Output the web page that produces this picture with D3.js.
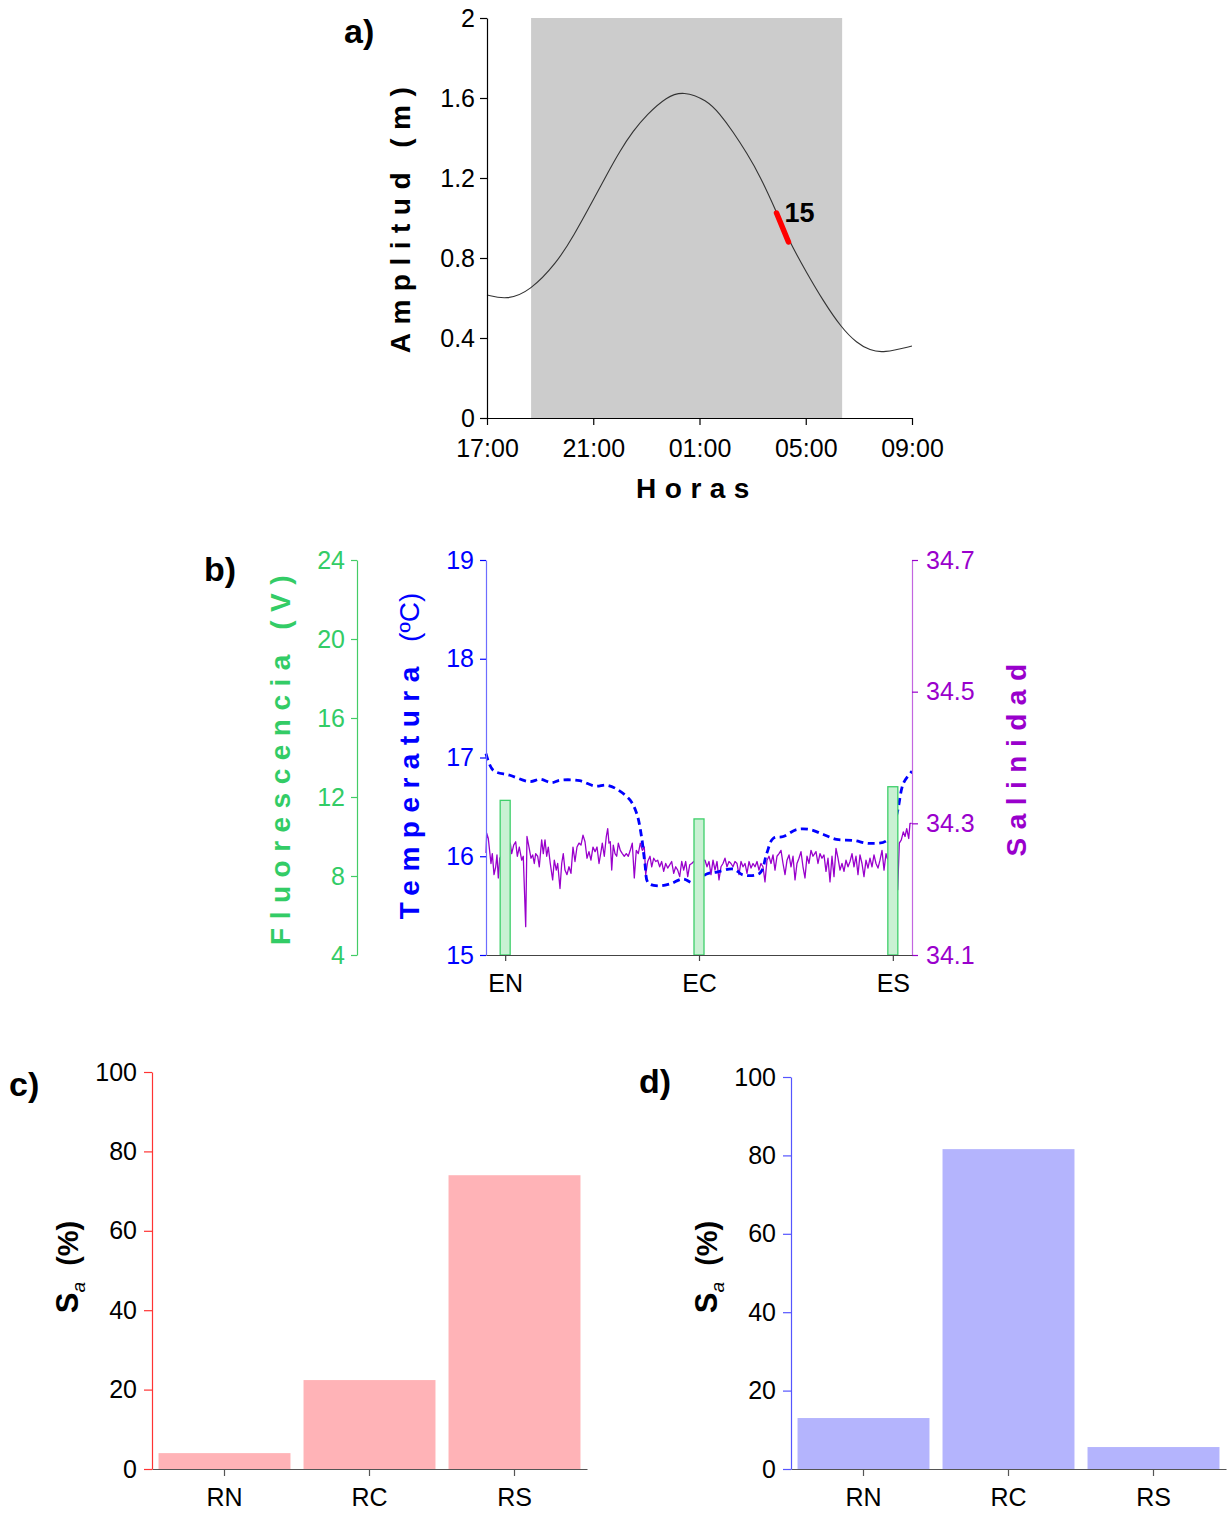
<!DOCTYPE html>
<html><head><meta charset="utf-8">
<script src="https://cdn.jsdelivr.net/npm/d3@7"></script>
<style>
body{margin:0;background:#fff;}
svg{display:block;font-family:"Liberation Sans",Arial,sans-serif;}
</style></head>
<body>
<svg id="chart" width="1231" height="1513"></svg>
<script>
// ---------- DATA ----------
// Panel a: tide amplitude (hours after 17:00, metres)
const tideHours = [0,0.75,1.62,2.62,3.26,4.0,4.5,5.0,5.5,6.0,6.77,7.39,8.27,8.77,9.27,9.78,10.28,10.9,11.35,12.04,12.66,13.35,13.92,14.42,14.92,16];
const tideAmp   = [0.615,0.59,0.635,0.775,0.91,1.09,1.215,1.335,1.435,1.515,1.607,1.635,1.59,1.52,1.43,1.325,1.21,1.03,0.89,0.725,0.585,0.45,0.375,0.338,0.325,0.36];
const sampleHours = [10.9,11.35];
const sampleAmp   = [1.025,0.88];
const sampleLabel = "15";
const nightStart = 1.66, nightEnd = 13.37;
const hourTicks = [0,4,8,12,16];
const hourTickLabels = ["17:00","21:00","01:00","05:00","09:00"];
const ampTicks = [0,0.4,0.8,1.2,1.6,2];

// Panel b: transect (0-100 % of transect)
const stations = ["EN","EC","ES"];
const stationPos = [4.5,50,95.5];
const fluorValues = [11.83,10.89,12.52];
const fluorTicks = [4,8,12,16,20,24];
const tempTicks = [15,16,17,18,19];
const salTicks = [34.1,34.3,34.5,34.7];
const tempX = [0,1.7,5.6,10.3,12.7,15.4,17.4,22,25.6,28.3,30.7,33.8,35.4,36.5,37.3,38.1,40.4,43.2,46.3,48.7,51.8,54.2,58.1,60.4,64.3,65.9,67.4,69.8,72.9,76.1,79.2,82.3,86.2,90.1,94.1,96.4,98,100];
const tempY = [17.04,16.87,16.82,16.755,16.78,16.745,16.77,16.765,16.71,16.72,16.68,16.57,16.43,16.2,15.93,15.73,15.70,15.72,15.77,15.73,15.82,15.84,15.87,15.81,15.83,16.03,16.18,16.20,16.27,16.27,16.22,16.17,16.16,16.13,16.16,16.42,16.74,16.86];
const salX = [0,0.16,0.54,1.17,1.48,1.88,2.28,2.58,2.89,3.22,4.5,5.70,6.03,6.50,6.97,7.35,7.82,8.38,8.75,9.32,9.62,10.09,10.56,10.96,11.34,11.66,12.13,12.51,13.07,13.45,13.85,14.25,14.62,15.09,15.65,16.03,16.50,16.83,17.37,17.77,18.14,18.54,19.01,19.48,19.95,20.42,20.89,21.36,21.83,22.30,22.77,23.24,23.71,24.17,24.64,25.11,
 25.6,26.06,26.53,27.0,27.3,27.77,28.24,28.57,28.87,29.18,29.51,29.88,30.28,30.68,31.06,31.53,32.0,32.46,32.93,33.4,33.87,34.34,34.81,35.28,35.75,36.22,36.69,37.16,37.49,37.96,38.5,38.9,39.37,39.84,40.3,40.77,41.24,41.71,42.18,42.65,43.12,43.59,44.06,44.53,45.0,45.47,45.94,46.41,46.88,47.35,47.82,48.29,48.76,50,
 51.41,51.88,52.35,52.82,53.29,53.76,54.23,54.69,55.16,55.63,56.10,56.57,57.04,57.51,57.98,58.45,58.92,59.39,59.86,60.33,60.80,61.27,61.74,62.21,62.68,63.15,63.62,64.08,64.55,65.02,65.49,65.96,66.43,66.90,67.37,67.84,68.31,68.78,69.25,69.72,70.19,70.66,71.13,71.60,72.07,72.54,73.00,73.47,73.94,74.41,74.88,75.35,75.82,76.29,76.76,
 77.46,77.93,78.40,78.87,79.34,79.81,80.28,80.75,81.22,81.69,82.16,82.63,83.10,83.57,84.04,84.51,84.98,85.45,85.92,86.38,86.85,87.32,87.79,88.26,88.73,89.20,89.67,90.14,90.61,91.08,91.55,92.02,92.49,92.96,93.43,93.90,94.2,95.2,96.64,97.02,97.49,97.96,98.36,98.76,99.23,99.53,99.93];
const salY = [34.255,34.285,34.277,34.239,34.254,34.222,34.234,34.252,34.217,34.247,34.26,34.27,34.254,34.267,34.272,34.25,34.264,34.244,34.25,34.143,34.28,34.264,34.247,34.252,34.239,34.254,34.25,34.234,34.275,34.254,34.275,34.25,34.264,34.239,34.214,34.244,34.229,34.239,34.201,34.239,34.254,34.229,34.222,34.234,34.224,34.264,34.242,34.264,34.27,34.267,34.282,34.272,34.247,34.257,34.244,34.264,
 34.257,34.264,34.239,34.257,34.27,34.25,34.28,34.292,34.27,34.272,34.229,34.267,34.254,34.25,34.27,34.259,34.254,34.25,34.254,34.25,34.259,34.27,34.217,34.259,34.254,34.27,34.259,34.264,34.222,34.242,34.25,34.234,34.247,34.242,34.244,34.234,34.242,34.227,34.239,34.232,34.237,34.242,34.224,34.234,34.229,34.219,34.242,34.229,34.242,34.219,34.237,34.239,34.242,34.24,
 34.244,34.234,34.242,34.222,34.244,34.229,34.242,34.214,34.234,34.239,34.247,34.234,34.242,34.239,34.234,34.242,34.239,34.222,34.242,34.234,34.239,34.224,34.242,34.232,34.239,34.234,34.242,34.229,34.239,34.234,34.211,34.244,34.25,34.239,34.252,34.229,34.25,34.254,34.259,34.239,34.222,34.244,34.252,34.234,34.25,34.214,34.239,34.247,34.257,34.234,34.217,34.25,34.239,34.259,34.25,
 34.257,34.239,34.254,34.247,34.252,34.227,34.247,34.211,34.25,34.219,34.262,34.247,34.229,34.239,34.227,34.244,34.234,34.242,34.254,34.234,34.25,34.222,34.252,34.239,34.219,34.244,34.232,34.247,34.234,34.252,34.239,34.232,34.244,34.259,34.229,34.254,34.247,34.24,34.199,34.27,34.275,34.287,34.28,34.292,34.277,34.30,34.30];

// Panels c, d: S_a (%)
const regions = ["RN","RC","RS"];
const saC = [4.0,22.4,74.0];
const saD = [13.0,81.6,5.6];
const saTicks = [0,20,40,60,80,100];

// ---------- DRAW ----------
const svg = d3.select("#chart");
const FONT = '"Liberation Sans",Arial,sans-serif';

function styleAxis(g, lineColor, textColor, fs){
  g.attr("font-family", FONT).attr("font-size", fs||25);
  g.select(".domain").attr("stroke", lineColor).attr("stroke-width",1.2);
  g.selectAll(".tick line").attr("stroke", lineColor).attr("stroke-width",1.2);
  g.selectAll(".tick text").attr("fill", textColor);
}
function label(x,y,txt,opts){
  return svg.append("text").attr("x",x).attr("y",y).text(txt)
    .attr("font-family",FONT).attr("font-weight","bold").attr("font-size",(opts&&opts.fs)||34).attr("fill","#000");
}
function vTitle(x,y,parts,color){
  const t = svg.append("text").attr("transform",`translate(${x},${y}) rotate(-90)`)
    .attr("text-anchor","middle").attr("font-family",FONT).attr("font-size",28).attr("fill",color);
  parts.forEach(p=>{
    const s=t.append("tspan").text(p.t).attr("font-weight",p.w||"bold");
    if(p.ls!==undefined) s.attr("letter-spacing",p.ls);
  });
  return t;
}

// ===== Panel a =====
const xA = d3.scaleLinear().domain([0,16]).range([487,912]);
const yA = d3.scaleLinear().domain([0,2]).range([418,18]);
svg.append("rect").attr("x",xA(nightStart)).attr("y",yA(2)).attr("width",xA(nightEnd)-xA(nightStart)).attr("height",yA(0)-yA(2)).attr("fill","#cccccc");
const tidePts = tideHours.map((h,i)=>[h,tideAmp[i]]);
svg.append("path").datum(tidePts).attr("fill","none").attr("stroke","#333").attr("stroke-width",1.1)
  .attr("d", d3.line().x(d=>xA(d[0])).y(d=>yA(d[1])).curve(d3.curveBasis));
const samplePts = sampleHours.map((h,i)=>[h,sampleAmp[i]]);
svg.append("path").datum(samplePts).attr("fill","none").attr("stroke","#ff0000").attr("stroke-width",5.5).attr("stroke-linecap","round")
  .attr("d", d3.line().x(d=>xA(d[0])).y(d=>yA(d[1])));
svg.append("text").attr("x",xA(sampleHours[0])+8).attr("y",yA(sampleAmp[0])+9).text(sampleLabel)
  .attr("font-family",FONT).attr("font-weight","bold").attr("font-size",27);
const gAy = svg.append("g").attr("transform","translate(487,0)")
  .call(d3.axisLeft(yA).tickValues(ampTicks).tickFormat(d=>d===0||d===2?d3.format("d")(d):d3.format(".1f")(d)).tickSize(7).tickPadding(5).tickSizeOuter(0));
styleAxis(gAy,"#000","#000");
const gAx = svg.append("g").attr("transform","translate(0,418)")
  .call(d3.axisBottom(xA).tickValues(hourTicks).tickFormat((d,i)=>hourTickLabels[i]).tickSize(7).tickPadding(14).tickSizeOuter(0));
styleAxis(gAx,"#000","#000");
vTitle(410,216,[{t:"Amplitud (m)",ls:8.5}],"#000");
svg.append("text").attr("x",697).attr("y",498).attr("text-anchor","middle").text("Horas")
  .attr("font-family",FONT).attr("font-weight","bold").attr("font-size",28).attr("letter-spacing",8.5);
label(344,43,"a)");

// ===== Panel b =====
const xB = d3.scaleLinear().domain([0,100]).range([486,912]);
const yT = d3.scaleLinear().domain([15,19]).range([955,560]);
const yF = d3.scaleLinear().domain([4,24]).range([955,560]);
const yS = d3.scaleLinear().domain([34.1,34.7]).range([955,560]);

const salPts = salX.map((x,i)=>[x,salY[i]]);
svg.append("path").datum(salPts).attr("fill","none").attr("stroke","#9900cc").attr("stroke-width",1.3).attr("stroke-linejoin","round")
  .attr("d", d3.line().x(d=>xB(d[0])).y(d=>yS(d[1])));
const tempPts = tempX.map((x,i)=>[x,tempY[i]]);
svg.append("path").datum(tempPts).attr("fill","none").attr("stroke","#0000ff").attr("stroke-width",2.8).attr("stroke-dasharray","7,4.5")
  .attr("d", d3.line().x(d=>xB(d[0])).y(d=>yT(d[1])).curve(d3.curveCatmullRom.alpha(0.5)));
svg.append("g").selectAll("rect").data(stationPos).join("rect")
  .attr("x",d=>xB(d)-5).attr("width",10)
  .attr("y",(d,i)=>yF(fluorValues[i])).attr("height",(d,i)=>yF(4)-yF(fluorValues[i]))
  .attr("fill","#c9f1d3").attr("stroke","#3ecf6a").attr("stroke-width",1.3);

const gF = svg.append("g").attr("transform","translate(357,0)")
  .call(d3.axisLeft(yF).tickValues(fluorTicks).tickSize(6).tickPadding(6).tickSizeOuter(0));
styleAxis(gF,"#44cc66","#33cc66");
const gT = svg.append("g").attr("transform","translate(486,0)")
  .call(d3.axisLeft(yT).tickValues(tempTicks).tickFormat(d3.format("d")).tickSize(6).tickPadding(6).tickSizeOuter(0));
styleAxis(gT,"#6d6dff","#0000ff");
gT.selectAll(".tick line").attr("stroke","#0000ff");
const gS = svg.append("g").attr("transform","translate(912,0)")
  .call(d3.axisRight(yS).tickValues(salTicks).tickFormat(d3.format(".1f")).tickSize(6).tickPadding(8).tickSizeOuter(0));
styleAxis(gS,"#c266e0","#9900cc");
gS.selectAll(".tick line").attr("stroke","#9900cc");
const gB = svg.append("g").attr("transform","translate(0,955)")
  .call(d3.axisBottom(xB).tickValues(stationPos).tickFormat((d,i)=>stations[i]).tickSize(6).tickPadding(13).tickSizeOuter(0));
styleAxis(gB,"#444","#000");
vTitle(290,756,[{t:"Fluorescencia (V)",ls:8.5}],"#33cc66");
vTitle(419,756,[{t:"Temperatura ",ls:8.5},{t:"(ºC)",w:"normal",ls:0}],"#0000ff");
vTitle(1026,756,[{t:"Salinidad",ls:8.5}],"#9900cc");
label(204,581,"b)");

// ===== Panels c, d =====
function barPanel(x0,x1,yTop,values,fill,axisColor,titleX,lab,labX,labY){
  const x = d3.scaleBand().domain(regions).range([x0,x1]).paddingInner(0.09).paddingOuter(0.045);
  const y = d3.scaleLinear().domain([0,100]).range([1469,yTop]);
  svg.append("g").selectAll("rect").data(values).join("rect")
    .attr("x",(d,i)=>x(regions[i])).attr("width",x.bandwidth())
    .attr("y",d=>y(d)).attr("height",d=>y(0)-y(d)).attr("fill",fill);
  const gx = svg.append("g").attr("transform","translate(0,1469)")
    .call(d3.axisBottom(x).tickSize(7).tickPadding(12).tickSizeOuter(0));
  styleAxis(gx,"#555","#000");
  const gy = svg.append("g").attr("transform",`translate(${x0},0)`)
    .call(d3.axisLeft(y).tickValues(saTicks).tickSize(8).tickPadding(7).tickSizeOuter(0));
  styleAxis(gy,axisColor,"#000");
  const t = svg.append("text").attr("transform",`translate(${titleX},1267) rotate(-90)`)
    .attr("text-anchor","middle").attr("font-family",FONT).attr("font-size",31).attr("font-weight","bold");
  t.append("tspan").text("S");
  t.append("tspan").text("a").attr("font-size",19).attr("font-style","italic").attr("font-weight","normal").attr("dy",7);
  t.append("tspan").text("\u00a0 (%)").attr("dy",-7).attr("font-size",29);
  label(labX,labY,lab);
}
barPanel(152,587,1072,saC,"#ffb3b7","#ff3333",78,"c)",9,1096);
barPanel(791,1226,1077,saD,"#b4b4fd","#5555ff",717,"d)",639,1093);
</script>
</body></html>
